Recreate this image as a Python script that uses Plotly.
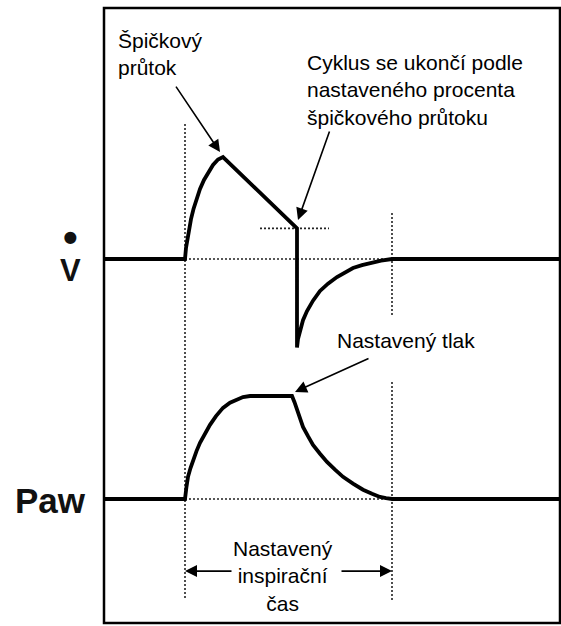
import plotly.graph_objects as go

# Flow waveform (L/min) during a pressure-support breath
t_flow = [0.19, 1.00, 1.01, 1.025, 1.04, 1.06, 1.085, 1.115, 1.15, 1.19, 1.235, 1.28, 1.33, 1.38,
          2.12, 2.12, 2.13, 2.15, 2.18, 2.22, 2.28, 2.35, 2.43, 2.52, 2.60, 2.68, 2.77, 2.85, 2.96, 3.07, 4.75]
flow = [0, 0, 6.5, 12.4, 18.2, 23.5, 29.4, 35.3, 41.2, 46.5, 51.2, 55.3, 58.5, 60.0,
        18.0, -52.0, -47.0, -41.8, -36.0, -30.6, -24.5, -18.8, -14.5, -10.6, -7.8, -5.3, -3.6, -2.4, -1.0, 0, 0]

# Airway pressure waveform (cmH2O)
t_paw = [0.19, 1.00, 1.015, 1.03, 1.055, 1.08, 1.115, 1.15, 1.20, 1.25, 1.31, 1.38, 1.45, 1.52, 1.58, 1.65,
         2.07, 2.095, 2.12, 2.15, 2.18, 2.23, 2.28, 2.35, 2.42, 2.50, 2.58, 2.68, 2.78, 2.87, 2.95, 3.01, 3.07, 4.75]
paw = [5, 5, 7.4, 9.3, 11.0, 12.6, 14.3, 15.9, 17.7, 19.4, 21.1, 22.7, 23.7, 24.4, 24.8, 25.0,
       25.0, 23.8, 22.3, 20.6, 19.0, 17.2, 15.5, 13.8, 12.2, 10.7, 9.3, 8.0, 6.8, 6.0, 5.4, 5.15, 5.0, 5.0]

t_insp_start = 1.00
t_insp_end = 3.07
cycle_off_flow = 18.0
cycle_off_span = [1.75, 2.44]
peak_point = [1.35, 62.9]
cycle_off_point = [2.13, 22.9]
set_pressure_point = [2.10, 25.8]
insp_arrow_level = -9.0
peep = 5

W, H = 561, 626
L, R, T, B = 104, 1, 8, 3


def pxx(xp):
    return (xp - L) / (W - L - R)


def pxy(yp):
    return (H - B - yp) / (H - T - B)


fig = go.Figure()
line_style = dict(color="black", width=3.8)
fig.add_trace(go.Scatter(x=t_flow, y=flow, mode="lines", line=line_style,
                         xaxis="x", yaxis="y", hoverinfo="skip"))
fig.add_trace(go.Scatter(x=t_paw, y=paw, mode="lines", line=line_style,
                         xaxis="x", yaxis="y2", hoverinfo="skip"))

dot = dict(color="#222", width=1.6, dash="2px,2px")
shapes = [
    # outer frame
    dict(type="rect", xref="paper", yref="paper", x0=0, y0=0, x1=1, y1=1,
         line=dict(color="black", width=2.5), layer="above"),
    # baselines during inspiration
    dict(type="line", xref="x", yref="y", x0=t_insp_start, x1=t_insp_end, y0=0, y1=0, line=dot, layer="below"),
    dict(type="line", xref="x", yref="y2", x0=t_insp_start, x1=t_insp_end, y0=peep, y1=peep, line=dot, layer="below"),
    # cycle-off threshold
    dict(type="line", xref="x", yref="y", x0=cycle_off_span[0], x1=cycle_off_span[1],
         y0=cycle_off_flow, y1=cycle_off_flow, line=dot, layer="below"),
    # start / end of the set inspiratory time
    dict(type="line", xref="x", yref="paper", x0=t_insp_start, x1=t_insp_start,
         y0=pxy(598), y1=pxy(123), line=dot, layer="below"),
    dict(type="line", xref="x", yref="paper", x0=t_insp_end, x1=t_insp_end,
         y0=pxy(315), y1=pxy(212), line=dot, layer="below"),
    dict(type="line", xref="x", yref="paper", x0=t_insp_end, x1=t_insp_end,
         y0=pxy(600), y1=pxy(382), line=dot, layer="below"),
]

font = dict(family="Liberation Sans, Arial, sans-serif", size=21, color="black")
arrow = dict(showarrow=True, arrowhead=2, arrowsize=1.5, arrowwidth=1.6, arrowcolor="black", text="")

annotations = [
    dict(xref="paper", yref="paper", x=pxx(116), y=pxy(54), xanchor="left", yanchor="middle",
         align="left", text="Špičkový<br>průtok", showarrow=False, font=font),
    dict(xref="paper", yref="paper", x=pxx(305), y=pxy(90), xanchor="left", yanchor="middle",
         align="left", text="Cyklus se ukončí podle<br>nastaveného procenta<br>špičkového průtoku",
         showarrow=False, font=font),
    dict(xref="paper", yref="paper", x=pxx(335), y=pxy(340), xanchor="left", yanchor="middle",
         align="left", text="Nastavený tlak", showarrow=False, font=font),
    dict(xref="paper", yref="paper", x=pxx(283), y=pxy(576), xanchor="center", yanchor="middle",
         align="center", text="Nastavený<br>inspirační<br>čas", showarrow=False, font=font),
    # flow symbol: V with a dot above, as one two-line label
    dict(xref="paper", yref="paper", x=pxx(70), y=pxy(251), xanchor="center", yanchor="middle",
         align="center",
         text="<b><span style='font-size:42px'>•</span><br><span style='font-size:31px'>V</span></b>",
         showarrow=False,
         font=dict(family="Liberation Sans, Arial, sans-serif", size=22, color="#111")),
    dict(xref="paper", yref="paper", x=pxx(50), y=pxy(500), xanchor="center", yanchor="middle",
         text="<b>Paw</b>", showarrow=False,
         font=dict(family="Liberation Sans, Arial, sans-serif", size=35, color="#111")),
    # arrows
    dict(xref="x", yref="y", x=peak_point[0], y=peak_point[1], ax=-45, ay=-67, **arrow),
    dict(xref="x", yref="y", x=cycle_off_point[0], y=cycle_off_point[1], ax=32, ay=-90, **arrow),
    dict(xref="x", yref="y2", x=set_pressure_point[0], y=set_pressure_point[1], ax=75, ay=-34, **arrow),
    dict(xref="x", yref="y2", x=t_insp_start, y=insp_arrow_level, ax=48, ay=0, **arrow),
    dict(xref="x", yref="y2", x=t_insp_end, y=insp_arrow_level, ax=-52, ay=0, **arrow),
]

split = pxy(365)
fig.update_layout(
    width=W, height=H,
    margin=dict(l=L, r=R, t=T, b=B, pad=0),
    paper_bgcolor="white", plot_bgcolor="white",
    showlegend=False,
    xaxis=dict(range=[0.19, 4.75], visible=False, fixedrange=True),
    yaxis=dict(domain=[split, 1], range=[-62.35, 147.65], visible=False, fixedrange=True),
    yaxis2=dict(domain=[0, split], range=[-19.08, 31.02], visible=False, fixedrange=True),
    shapes=shapes,
    annotations=annotations,
)

fig.write_html("out.html", config={"displayModeBar": False})
